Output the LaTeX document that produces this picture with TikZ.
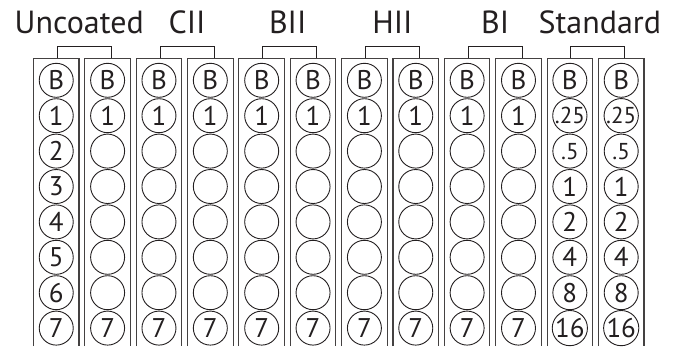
\documentclass[tikz,border=0pt]{standalone}
\usepackage{fontspec}
\setmainfont{PT Sans}
\usetikzlibrary{positioning}
\definecolor{ink}{RGB}{35,31,32}
\tikzset{
    well/.style={
        circle,
        draw=ink,
        line width=0.9pt,
        minimum size=34pt,
        inner sep=0pt,
        text=ink,
        font=\fontsize{27}{27}\selectfont
    },
    strip/.style={
        draw=ink!85,
        line width=1.1pt
    },
    bracket/.style={
        draw=ink,
        line width=0.9pt
    },
    grouptitle/.style={
        font=\fontsize{32}{32}\selectfont,
        text=ink,
        anchor=base
    }
}
\newcommand{\smallnum}[1]{{\fontsize{23}{23}\selectfont #1}}

\begin{document}
\begin{tikzpicture}[x=1pt, y=-1pt]
\useasboundingbox (0,0) rectangle (678,346);

% Sample strips, open at the bottom
\foreach \i in {0,...,11} {
    \pgfmathsetmacro{\sx}{33.5+\i*51.36}
    \draw[strip] (\sx,346) |- (\sx+45.5,58.3) -- (\sx+45.5,346);
    \coordinate (top\i) at (\sx+22.75,58.3);
}

% Wells in each strip
\foreach \lablist [count=\i from 0] in {
    {B,1,2,3,4,5,6,7},
    {B,1,{},{},{},{},{},7}, {B,1,{},{},{},{},{},7},
    {B,1,{},{},{},{},{},7}, {B,1,{},{},{},{},{},7},
    {B,1,{},{},{},{},{},7}, {B,1,{},{},{},{},{},7},
    {B,1,{},{},{},{},{},7}, {B,1,{},{},{},{},{},7},
    {B,1,{},{},{},{},{},7},
    {B,{\smallnum{.25}},{\smallnum{.5}},1,2,4,8,16},
    {B,{\smallnum{.25}},{\smallnum{.5}},1,2,4,8,16}} {
    \foreach \lab [count=\r from 0] in \lablist {
        \node[well] (w\i-\r) at ([yshift=-22pt-\r*35.4pt]top\i) {\lab};
    }
}

% Group brackets and titles
\foreach \name/\dx [count=\p from 0] in {Uncoated/-5, CII/0, BII/-2, HII/0, BI/0, Standard/2} {
    \pgfmathtruncatemacro{\a}{2*\p}
    \coordinate (bl\p) at ([xshift=1pt]top\a);
    \coordinate (br\p) at ([xshift=55pt]top\a);
    \draw[bracket] (bl\p) -- ++(0,-11.6) -| (br\p);
    \path (bl\p) -- (br\p) coordinate[midway] (m\p);
    \node[grouptitle] (t\p) at ([xshift=\dx pt, yshift=25.3pt]m\p) {\name};
}

\end{tikzpicture}
\end{document}
